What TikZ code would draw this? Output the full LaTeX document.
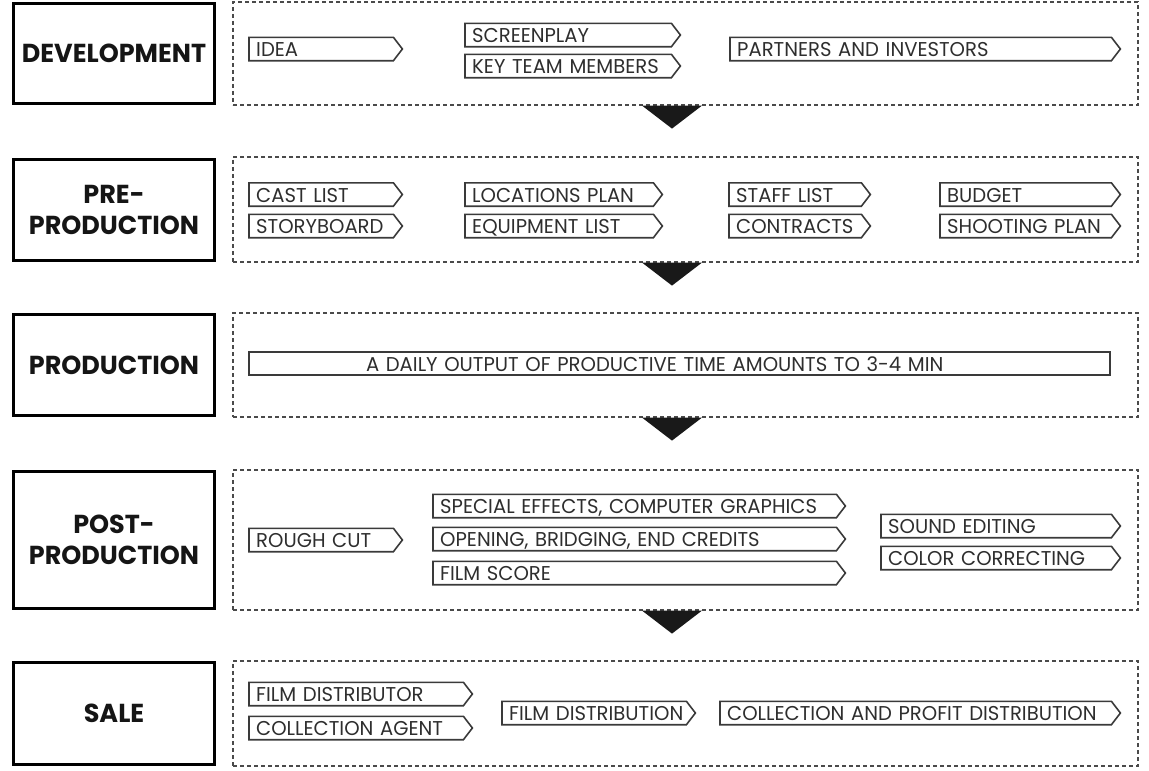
\documentclass[tikz,border=0pt]{standalone}
\usepackage{fontspec}
\setmainfont{Poppins}
\newfontfamily\tagfont{Poppins}[FakeStretch=0.98]
\newfontfamily\headfont{Poppins}[FakeStretch=0.98]
\definecolor{tagtext}{HTML}{2E2E2E}
\definecolor{tagline}{HTML}{3A3A3A}
\definecolor{headtext}{HTML}{151515}
\definecolor{frameline}{HTML}{4A4A4A}
\tikzset{
  tagline/.style={draw=tagline, line width=1.6pt, line join=miter},
  tag/.style={anchor=west, minimum width=#1, text width=#1-14pt, inner xsep=7pt, inner ysep=0pt,
    minimum height=23pt, text height=15pt, text depth=0pt, align=left,
    font=\tagfont\fontsize{20pt}{20pt}\selectfont, text=tagtext,
    append after command={\pgfextra{\pgfinterruptpath
      \draw[tagline] (\tikzlastnode.north west) -- ([xshift=-9pt]\tikzlastnode.north east)
        -- (\tikzlastnode.east) -- ([xshift=-9pt]\tikzlastnode.south east)
        -- (\tikzlastnode.south west) -- cycle;
      \endpgfinterruptpath}}},
  daily/.style={tagline, minimum width=#1, text width=#1-14pt, inner xsep=7pt, inner ysep=0pt,
    minimum height=23pt, text height=15pt, text depth=0pt, align=left,
    font=\tagfont\fontsize{20pt}{20pt}\selectfont, text=tagtext},
  stage/.style={draw=black, line width=3pt, minimum width=201pt, minimum height=#1, inner sep=0pt,
    align=center, text=headtext, font=\headfont\bfseries\fontsize{26pt}{31pt}\selectfont},
  frame/.style={draw=frameline, line width=1.2pt, dash pattern=on 4pt off 3pt,
    minimum width=905pt, minimum height=#1, inner sep=0pt},
  tri/.style={fill=black!90}
}
\begin{document}
\begin{tikzpicture}[x=1pt, y=-1pt]
\useasboundingbox (0,0) rectangle (1149,771);
% stages
\node[stage=100pt] (s1) at (114,53.5) {DEVELOPMENT};
\node[stage=101pt] (s2) at (114,209.5) {PRE-\\PRODUCTION};
\node[stage=101pt] (s3) at (114,365) {PRODUCTION};
\node[stage=137pt] (s4) at (114,540) {POST-\\PRODUCTION};
\node[stage=102pt] (s5) at (114,713.5) {SALE};
% frames
\node[frame=103pt] (f1) at (685.5,53.5) {};
\node[frame=105pt] (f2) at (685.5,209.5) {};
\node[frame=104pt] (f3) at (685.5,365) {};
\node[frame=140pt] (f4) at (685.5,540) {};
\node[frame=105pt] (f5) at (685.5,713.5) {};
% triangles between frames
\foreach \a/\b in {f1/t1,f2/t2,f3/t3,f4/t4}{
  \coordinate (\b) at ([xshift=-13.5pt]\a.south);
  \fill[tri] ([xshift=-30pt]\b) -- ([xshift=30pt]\b) -- ([yshift=-23pt]\b) -- cycle;
}
% row 1
\node[tag=153pt] (idea) at (249,49) {IDEA};
\node[tag=215pt] (screen) at (465,35) {SCREENPLAY};
\node[tag=215pt] (team) at (465,66) {KEY TEAM MEMBERS};
\node[tag=390pt] (partners) at (730,49) {PARTNERS AND INVESTORS};
% row 2
\node[tag=153pt] (cast) at (249,194.5) {CAST LIST};
\node[tag=153pt] (story) at (249,226) {STORYBOARD};
\node[tag=197pt] (loc) at (465,194.5) {LOCATIONS PLAN};
\node[tag=197pt] (equip) at (465,226) {EQUIPMENT LIST};
\node[tag=141pt] (staff) at (729,194.5) {STAFF LIST};
\node[tag=141pt] (contr) at (729,226) {CONTRACTS};
\node[tag=180pt] (budget) at (940,194.5) {BUDGET};
\node[tag=180pt] (shoot) at (940,226) {SHOOTING PLAN};
% row 3
\node[daily=861pt] (daily) at (679.5,363.5) {\hspace*{110pt}A DAILY OUTPUT OF PRODUCTIVE TIME AMOUNTS TO 3-4 MIN};
% row 4
\node[tag=153pt] (rough) at (249,540) {ROUGH CUT};
\node[tag=412pt] (sfx) at (433,506) {SPECIAL EFFECTS, COMPUTER GRAPHICS};
\node[tag=412pt] (credits) at (433,539) {OPENING, BRIDGING, END CREDITS};
\node[tag=412pt] (score) at (433,573) {FILM SCORE};
\node[tag=239pt] (sound) at (881,526) {SOUND EDITING};
\node[tag=239pt] (color) at (881,558) {COLOR CORRECTING};
% row 5
\node[tag=223pt] (distr) at (249,694) {FILM DISTRIBUTOR};
\node[tag=223pt] (agent) at (249,728) {COLLECTION AGENT};
\node[tag=193pt] (fdist) at (502,713) {FILM DISTRIBUTION};
\node[tag=400pt] (profit) at (720,713) {COLLECTION AND PROFIT DISTRIBUTION};
\end{tikzpicture}
\end{document}
